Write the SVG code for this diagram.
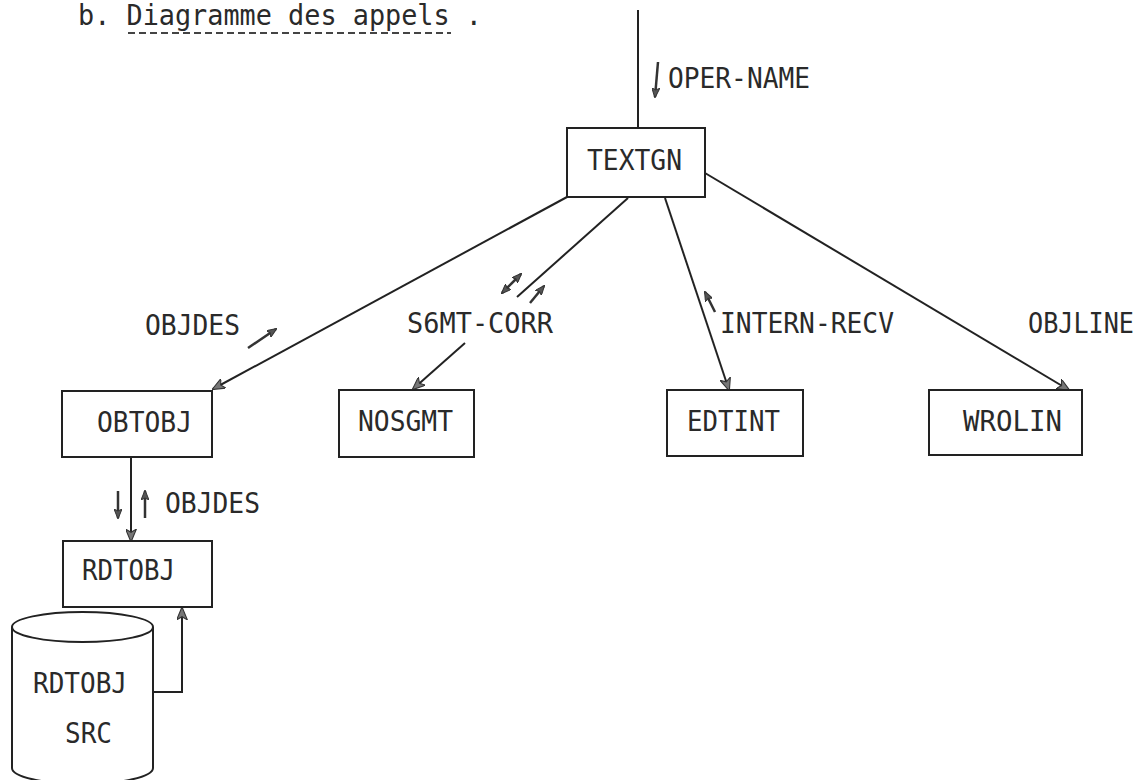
<svg xmlns="http://www.w3.org/2000/svg" width="1145" height="780" viewBox="0 0 1145 780">
<defs>
<style>
.t{font-family:"DejaVu Sans Mono","Liberation Mono",monospace;font-size:28px;fill:#2a2a2a}
.box{fill:#fff;stroke:#222;stroke-width:2}
.ln{fill:none;stroke:#222;stroke-width:2}
.sm{fill:none;stroke:#333;stroke-width:2.5}
</style>
<marker id="ah" viewBox="0 0 12 10" refX="11" refY="5" markerWidth="13" markerHeight="11" markerUnits="userSpaceOnUse" orient="auto">
<path d="M0,0 L12,5 L0,10 L3,5 Z" fill="#777" stroke="#333" stroke-width="1"/>
</marker>
<marker id="sh" viewBox="0 0 10 8" refX="9" refY="4" markerWidth="10" markerHeight="8" markerUnits="userSpaceOnUse" orient="auto">
<path d="M0,0 L10,4 L0,8 L2,4 Z" fill="#555" stroke="#333" stroke-width="1"/>
</marker>
<marker id="st" viewBox="0 0 10 8" refX="1" refY="4" markerWidth="10" markerHeight="8" markerUnits="userSpaceOnUse" orient="auto">
<path d="M10,0 L0,4 L10,8 L8,4 Z" fill="#555" stroke="#333" stroke-width="1"/>
</marker>
</defs>
<rect width="1145" height="780" fill="#fff"/>

<g id="title">
<text class="t" x="78" y="25" font-size="25" textLength="404" lengthAdjust="spacingAndGlyphs">b. Diagramme des appels .</text>
<line x1="128" y1="33" x2="451" y2="33" stroke="#444" stroke-width="2" stroke-dasharray="7,4"/>
</g>

<g id="connectors">
<line class="ln" x1="638" y1="10" x2="638" y2="128"/>
<line class="sm" x1="658" y1="62" x2="655" y2="97" marker-end="url(#sh)"/>
<line class="ln" x1="567" y1="197" x2="213" y2="389" marker-end="url(#ah)"/>
<line class="sm" x1="248" y1="348" x2="276" y2="329" marker-end="url(#sh)"/>
<line class="ln" x1="628" y1="198" x2="517" y2="297"/>
<line class="sm" x1="502" y1="293" x2="521" y2="274" marker-start="url(#st)" marker-end="url(#sh)"/>
<line class="sm" x1="530" y1="303" x2="544" y2="286" marker-end="url(#sh)"/>
<line class="ln" x1="465" y1="343" x2="413" y2="389" marker-end="url(#ah)"/>
<line class="ln" x1="665" y1="198" x2="729" y2="390" marker-end="url(#ah)"/>
<line class="sm" x1="715" y1="312" x2="705" y2="292" marker-end="url(#sh)"/>
<line class="ln" x1="705" y1="173" x2="1069" y2="390" marker-end="url(#ah)"/>
<line class="ln" x1="131" y1="457" x2="131" y2="541" marker-end="url(#ah)"/>
<line class="sm" x1="118" y1="491" x2="118" y2="518" marker-end="url(#sh)"/>
<line class="sm" x1="145" y1="518" x2="145" y2="491" marker-end="url(#sh)"/>
<polyline class="ln" points="153,692 182,692 182,608" marker-end="url(#ah)"/>
<line stroke="#555" stroke-width="1.2" x1="981" y1="390" x2="989" y2="406"/>
</g>

<g id="labels">
<text class="t" x="668" y="88" textLength="142" lengthAdjust="spacingAndGlyphs">OPER-NAME</text>
<text class="t" x="145" y="335" textLength="95" lengthAdjust="spacingAndGlyphs">OBJDES</text>
<text class="t" x="407" y="333" textLength="146" lengthAdjust="spacingAndGlyphs">S6MT-CORR</text>
<text class="t" x="720" y="333" textLength="174" lengthAdjust="spacingAndGlyphs">INTERN-RECV</text>
<text class="t" x="1028" y="333" textLength="106" lengthAdjust="spacingAndGlyphs">OBJLINE</text>
<text class="t" x="165" y="513" textLength="95" lengthAdjust="spacingAndGlyphs">OBJDES</text>
</g>

<g id="TEXTGN">
<rect class="box" x="567" y="128" width="138" height="69"/>
<text class="t" x="587" y="170" textLength="95" lengthAdjust="spacingAndGlyphs">TEXTGN</text>
</g>
<g id="OBTOBJ">
<rect class="box" x="62" y="391" width="150" height="66"/>
<text class="t" x="97" y="432" textLength="95" lengthAdjust="spacingAndGlyphs">OBTOBJ</text>
</g>
<g id="NOSGMT">
<rect class="box" x="339" y="390" width="135" height="67"/>
<text class="t" x="358" y="431" textLength="95" lengthAdjust="spacingAndGlyphs">NOSGMT</text>
</g>
<g id="EDTINT">
<rect class="box" x="667" y="390" width="136" height="66"/>
<text class="t" x="687" y="431" textLength="93" lengthAdjust="spacingAndGlyphs">EDTINT</text>
</g>
<g id="WROLIN">
<rect class="box" x="929" y="390" width="153" height="65"/>
<text class="t" x="963" y="431" textLength="99" lengthAdjust="spacingAndGlyphs">WROLIN</text>
</g>
<g id="RDTOBJ">
<rect class="box" x="63" y="541" width="149" height="66"/>
<text class="t" x="82" y="580" textLength="93" lengthAdjust="spacingAndGlyphs">RDTOBJ</text>
</g>
<g id="RDTOBJ_SRC">
<path class="box" d="M12,627 L12,768 A70.5,16 0 0 0 153,768 L153,627 A70.5,15 0 0 0 12,627 Z"/>
<path class="ln" d="M12,627 A70.5,15 0 0 0 153,627"/>
<text class="t" x="33" y="693" textLength="94" lengthAdjust="spacingAndGlyphs">RDTOBJ</text>
<text class="t" x="65" y="743" textLength="47" lengthAdjust="spacingAndGlyphs">SRC</text>
</g>
</svg>
